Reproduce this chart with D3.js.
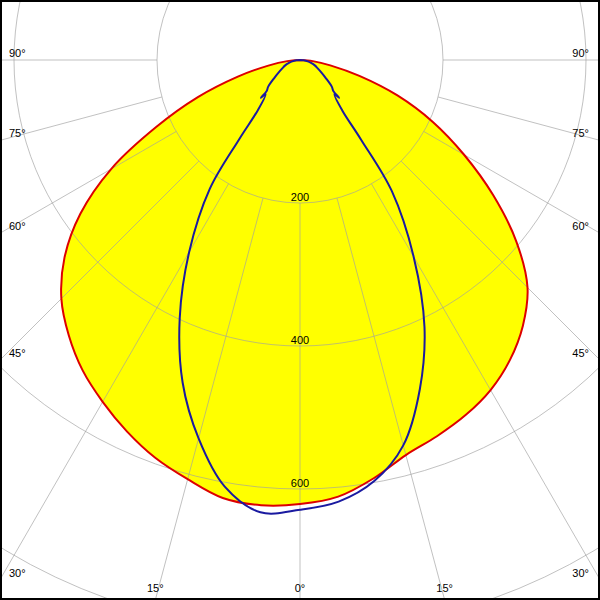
<!DOCTYPE html>
<html>
<head>
<meta charset="utf-8">
<script src="https://cdn.jsdelivr.net/npm/d3@7"></script>
<style>
  html, body { margin: 0; padding: 0; background: #fff; }
  svg { display: block; }
  text { font-family: "Liberation Sans", Arial, sans-serif; font-size: 11px; fill: #000; }
</style>
</head>
<body>
<svg id="chart" width="600" height="600"></svg>
<script>
// ---- data (cd/klm), angle measured from nadir (0°) ----
const angles = [0,5,10,15,20,25,30,35,40,45,50,55,60,65,70,75,80,85,90];
const redLeft  = [621,625,622,607,592,573,552,530,503,472,430,375,305,222,152,90,45,18,0];
const redRight = [621,613,594,572,560,548,533,512,485,450,395,330,265,205,145,86,43,18,0];

const blueAngles = [0,5,10,15,20,25,30,35,37.5,40,45,46,47,50,55,60,65,70,75,80,85,90];
const blueLeft   = [629,635,606,548,480,398,310,220,140,92,68,76,64,58,44,34,27,22,16,11,5,0];
const blueRight  = [629,620,598,558,490,412,318,224,140,92,68,76,64,58,44,34,27,22,16,11,5,0];

const ringValues = [200,400,600,800];
const ringLabels = ["200","400","600"];
const spokeAngles = [-90,-75,-60,-45,-30,-15,0,15,30,45,60,75,90];
const spokeLabels = ["90°","75°","60°","45°","30°","15°","0°","15°","30°","45°","60°","75°","90°"];

// ---- layout ----
const W = 600, H = 600;
const cx = 300, cy = 60;
const r = d3.scaleLinear().domain([0, 800]).range([0, 572]);
const svg = d3.select("#chart");
const g = svg.append("g").attr("transform", `translate(${cx},${cy})`);
const rad = d => d * Math.PI / 180;

function fullCurve(angs, left, right) {
  const pts = [];
  for (let i = angs.length - 1; i >= 0; i--) pts.push([Math.PI + rad(angs[i]), r(left[i])]);
  for (let i = 1; i < angs.length; i++) pts.push([Math.PI - rad(angs[i]), r(right[i])]);
  return pts;
}
const line = d3.lineRadial().angle(d => d[0]).radius(d => d[1]).curve(d3.curveCatmullRom.alpha(0.5));

const redPts = fullCurve(angles, redLeft, redRight);
const bluePts = fullCurve(blueAngles, blueLeft, blueRight);

// yellow fill
g.append("path").attr("d", line(redPts) + "Z").attr("fill", "#ffff00").attr("stroke", "none");

// grid
const grid = g.append("g").attr("stroke", "#a0a0a0").attr("stroke-opacity", 0.65).attr("fill", "none").attr("stroke-width", 1);
ringValues.forEach(v => grid.append("circle").attr("r", r(v)));
spokeAngles.forEach(a => {
  const t = rad(a);
  grid.append("line")
    .attr("x1", r(200) * Math.sin(t)).attr("y1", r(200) * Math.cos(t))
    .attr("x2", 1200 * Math.sin(t)).attr("y2", 1200 * Math.cos(t));
});

// ring labels
ringLabels.forEach((lab, i) => {
  g.append("text").attr("x", 0).attr("y", r(ringValues[i]) - 2).attr("text-anchor", "middle").text(lab);
});

// curves
g.append("path").attr("d", line(redPts)).attr("fill", "none").attr("stroke", "#dd0000").attr("stroke-width", 2);
g.append("path").attr("d", line(bluePts)).attr("fill", "none").attr("stroke", "#1a1aa0").attr("stroke-width", 2);

// angle labels at the frame
spokeAngles.forEach((a, i) => {
  const t = rad(a);
  const dx = Math.sin(t), dy = Math.cos(t);
  let tx = Infinity, ty = Infinity;
  if (dx < 0) tx = -cx / dx; else if (dx > 0) tx = (W - cx) / dx;
  if (dy > 0) ty = (H - cy) / dy;
  const s = Math.min(tx, ty);
  const px = cx + s * dx, py = cy + s * dy;
  const t2 = svg.append("text").text(spokeLabels[i]);
  if (ty <= tx) {
    t2.attr("x", px).attr("y", 592).attr("text-anchor", "middle");
  } else if (dx < 0) {
    t2.attr("x", 9).attr("y", py - 3).attr("text-anchor", "start");
  } else {
    t2.attr("x", 589).attr("y", py - 3).attr("text-anchor", "end");
  }
});

// frame
svg.append("rect").attr("x", 1).attr("y", 1).attr("width", 598).attr("height", 598)
  .attr("fill", "none").attr("stroke", "#000").attr("stroke-width", 2);
</script>
</body>
</html>
